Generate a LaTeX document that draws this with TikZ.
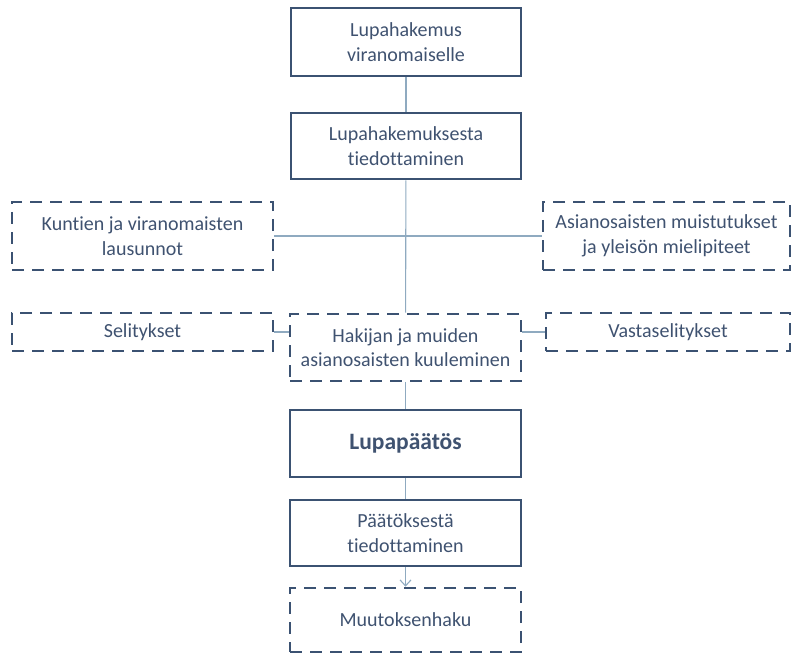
\documentclass[tikz,border=0pt]{standalone}
\usepackage{fontspec}
\setmainfont[Ligatures=CommonOff]{Carlito}
\usepackage{tikz}
\usetikzlibrary{arrows.meta}

\definecolor{boxline}{HTML}{3B5272}
\definecolor{boxtext}{HTML}{3F5270}
\definecolor{linkline}{HTML}{8FAAC0}

\tikzset{
  stagebox/.style={shape=rectangle,draw=boxline,line width=2.6pt,align=center,
    text=boxtext,inner sep=0pt,font=\fontsize{20}{24.5}\selectfont},
  optbox/.style={stagebox,dashed,dash pattern=on 12pt off 8pt},
  link/.style={draw=linkline,line width=1.1pt}
}

\begin{document}
\begin{tikzpicture}[x=1pt,y=-1pt]
	\useasboundingbox (0,0) rectangle (792,655);
	
	\node[stagebox,minimum width=230pt,minimum height=68pt] (hakemus)      at (406, 42)    {Lupahakemus\\viranomaiselle};
	\node[stagebox,minimum width=230pt,minimum height=66pt] (tiedotus)     at (406, 146)   {Lupahakemuksesta\\tiedottaminen};
	\node[optbox,minimum width=261pt,minimum height=68pt]   (lausunnot)    at (142.5, 236) {Kuntien ja viranomaisten\\lausunnot};
	\node[optbox,minimum width=247pt,minimum height=68pt]   (muistutukset) at (666.5, 236) {Asianosaisten muistutukset\\ja yleisön mielipiteet};
	\node[optbox,minimum width=261pt,minimum height=38pt]   (selitykset)   at (142.5, 332) {Selitykset};
	\node[optbox,minimum width=231pt,minimum height=67pt]   (kuuleminen)   at (405.5, 347.5) {Hakijan ja muiden\\asianosaisten kuuleminen};
	\node[optbox,minimum width=244pt,minimum height=38pt]   (vastasel)     at (668, 332)   {Vastaselitykset};
	\node[stagebox,minimum width=231pt,minimum height=67pt,font=\fontsize{23.5}{28}\selectfont\bfseries] (paatos) at (405.5, 443.5) {Lupapäätös};
	\node[stagebox,minimum width=231pt,minimum height=66pt] (paatostiedotus) at (405.5, 533) {Päätöksestä\\tiedottaminen};
	\node[optbox,minimum width=231pt,minimum height=64pt]   (muutos)       at (405.5, 620) {Muutoksenhaku};
	
	\path[link] (hakemus) -- (tiedotus);
	\path[link] (tiedotus) -- (kuuleminen);
	\path[link] (lausunnot) -- (muistutukset);
	\path[link] (selitykset.east) -- (selitykset.east -| kuuleminen.west);
	\path[link] (vastasel.west -| kuuleminen.east) -- (vastasel.west);
	\path[link] (kuuleminen) -- (paatos);
	\path[link] (paatos) -- (paatostiedotus);
	\path[link,-{Straight Barb[length=6pt,width=11pt]}] (paatostiedotus) -- (muutos);
	
\end{tikzpicture}
\end{document}
